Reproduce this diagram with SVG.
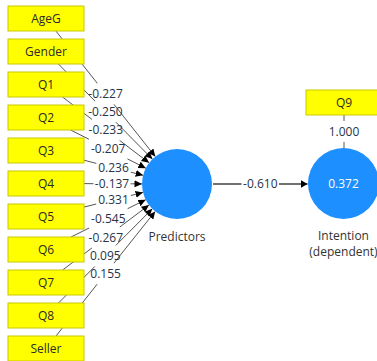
<svg xmlns="http://www.w3.org/2000/svg" width="377" height="361" viewBox="0 0 377 361">
  <style>
    .box { fill: #ffff00; stroke: #c8c800; stroke-width: 1; }
    .btxt { font-family: "Open Sans", "Noto Sans", sans-serif; font-size: 12px; fill: #2b2b2b; text-anchor: middle; }
    .lv { fill: #1e8fff; }
    .lvtxt { font-family: "Open Sans", "Noto Sans", sans-serif; font-size: 12px; fill: #333333; text-anchor: middle; }
    .val { font-family: "Open Sans", "Noto Sans", sans-serif; font-size: 12px; fill: #26344a; text-anchor: middle; }
    .path { stroke: #555555; stroke-width: 1; fill: none; }
    .main { stroke: #111111; stroke-width: 1.2; fill: none; }
  </style>
  <defs>
    <marker id="tip" markerUnits="userSpaceOnUse" markerWidth="9" markerHeight="8" refX="7.5" refY="3.5" orient="auto">
      <path d="M0,0 L7.5,3.5 L0,7 z" fill="#000"/>
    </marker>
    <marker id="tipBig" markerUnits="userSpaceOnUse" markerWidth="9" markerHeight="9" refX="7" refY="4" orient="auto">
      <path d="M0,0 L7,4 L0,8 z" fill="#000"/>
    </marker>
  </defs>

  <!-- connectors: each path is split around its coefficient label -->
  <g id="connectors">
    <g id="e-ageg"><line class="path" x1="55.9" y1="31" x2="97.3" y2="83.3"/><line class="path" x1="113.9" y1="104.3" x2="155.3" y2="156.6" marker-end="url(#tip)"/></g>
    <g id="e-gender"><line class="path" x1="58.4" y1="64" x2="95.0" y2="101.1"/><line class="path" x1="115.8" y1="122.1" x2="152.4" y2="159.1" marker-end="url(#tip)"/></g>
    <g id="e-q1"><line class="path" x1="62.5" y1="97" x2="92.0" y2="119.4"/><line class="path" x1="119.6" y1="140.4" x2="149.1" y2="162.8" marker-end="url(#tip)"/></g>
    <g id="e-q2"><line class="path" x1="70.6" y1="130" x2="89.0" y2="139.3"/><line class="path" x1="127.5" y1="158.9" x2="145.8" y2="168.2" marker-end="url(#tip)"/></g>
    <g id="e-q3"><line class="path" x1="84" y1="160.2" x2="96.3" y2="163.4"/><line class="path" x1="130.9" y1="172.2" x2="143.1" y2="175.3" marker-end="url(#tip)"/></g>
    <g id="e-q4"><line class="path" x1="84" y1="183.6" x2="93.5" y2="183.7"/><line class="path" x1="130.5" y1="183.8" x2="142" y2="183.9" marker-end="url(#tip)"/></g>
    <g id="e-q5"><line class="path" x1="84" y1="207.1" x2="96.2" y2="204.0"/><line class="path" x1="130.8" y1="195.5" x2="143.0" y2="192.4" marker-end="url(#tip)"/></g>
    <g id="e-q6"><line class="path" x1="71" y1="237" x2="89.1" y2="228.0"/><line class="path" x1="127.6" y1="208.7" x2="145.7" y2="199.7" marker-end="url(#tip)"/></g>
    <g id="e-q7"><line class="path" x1="62.6" y1="270" x2="91.9" y2="248.0"/><line class="path" x1="119.8" y1="227.0" x2="149.0" y2="205.0" marker-end="url(#tip)"/></g>
    <g id="e-q8"><line class="path" x1="58.5" y1="303" x2="94.9" y2="266.4"/><line class="path" x1="115.8" y1="245.4" x2="152.3" y2="208.8" marker-end="url(#tip)"/></g>
    <g id="e-seller"><line class="path" x1="56" y1="336" x2="97.2" y2="284.2"/><line class="path" x1="113.9" y1="263.2" x2="155.2" y2="211.4" marker-end="url(#tip)"/></g>
    <g id="e-structural"><line class="main" x1="213" y1="184" x2="241.5" y2="184"/><line class="main" x1="279" y1="184" x2="307.5" y2="184" marker-end="url(#tipBig)"/></g>
    <g id="e-q9"><line class="path" x1="344" y1="115" x2="344" y2="121"/><line class="path" x1="344" y1="142" x2="344" y2="148"/></g>
  </g>

  <!-- indicator boxes -->
  <g id="n-ageg"><rect class="box" x="8" y="6" width="76" height="25"/><text class="btxt" x="46" y="22.8">AgeG</text></g>
  <g id="n-gender"><rect class="box" x="8" y="39" width="76" height="25"/><text class="btxt" x="46" y="55.8">Gender</text></g>
  <g id="n-q1"><rect class="box" x="8" y="72" width="76" height="25"/><text class="btxt" x="46" y="88.8">Q1</text></g>
  <g id="n-q2"><rect class="box" x="8" y="105" width="76" height="25"/><text class="btxt" x="46" y="121.8">Q2</text></g>
  <g id="n-q3"><rect class="box" x="8" y="138" width="76" height="25"/><text class="btxt" x="46" y="154.8">Q3</text></g>
  <g id="n-q4"><rect class="box" x="8" y="171" width="76" height="25"/><text class="btxt" x="46" y="187.8">Q4</text></g>
  <g id="n-q5"><rect class="box" x="8" y="204" width="76" height="25"/><text class="btxt" x="46" y="220.8">Q5</text></g>
  <g id="n-q6"><rect class="box" x="8" y="237" width="76" height="25"/><text class="btxt" x="46" y="253.8">Q6</text></g>
  <g id="n-q7"><rect class="box" x="8" y="270" width="76" height="25"/><text class="btxt" x="46" y="286.8">Q7</text></g>
  <g id="n-q8"><rect class="box" x="8" y="303" width="76" height="25"/><text class="btxt" x="46" y="319.8">Q8</text></g>
  <g id="n-seller"><rect class="box" x="8" y="336" width="76" height="25"/><text class="btxt" x="46" y="352.8">Seller</text></g>
  <g id="n-q9"><rect class="box" x="306" y="90" width="76" height="25"/><text class="btxt" x="344" y="106.8">Q9</text></g>

  <!-- latent variables -->
  <g id="n-predictors">
    <circle class="lv" cx="177" cy="184" r="35"/>
    <text class="lvtxt" x="177" y="240.5">Predictors</text>
  </g>
  <g id="n-intention">
    <circle class="lv" cx="343.5" cy="183.5" r="35.5"/>
    <text class="lvtxt" x="343.5" y="188" style="fill:#ffffff">0.372</text>
    <text class="lvtxt" x="343.5" y="240">Intention</text>
    <text class="lvtxt" x="343.5" y="256">(dependent)</text>
  </g>

  <!-- path coefficients -->
  <g id="coefficients">
    <text class="val" x="105.6" y="98">-0.227</text>
    <text class="val" x="105.4" y="115.8">-0.250</text>
    <text class="val" x="105.8" y="134.1">-0.233</text>
    <text class="val" x="108.2" y="153.3">-0.207</text>
    <text class="val" x="113.5" y="172">0.236</text>
    <text class="val" x="112" y="188">-0.137</text>
    <text class="val" x="113.5" y="204">0.331</text>
    <text class="val" x="108.3" y="222.5">-0.545</text>
    <text class="val" x="105.8" y="241.7">-0.267</text>
    <text class="val" x="105.4" y="260.1">0.095</text>
    <text class="val" x="105.6" y="277.9">0.155</text>
    <text class="val" x="260.3" y="188.2">-0.610</text>
    <text class="val" x="344" y="135.8">1.000</text>
  </g>
</svg>
